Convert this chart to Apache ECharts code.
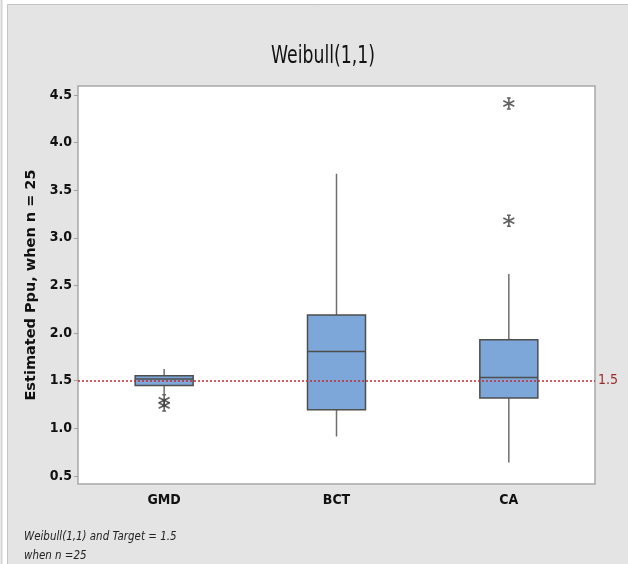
<!DOCTYPE html>
<html>
<head>
<meta charset="utf-8">
<script src="https://cdn.jsdelivr.net/npm/echarts@6/dist/echarts.min.js"></script>
<style>
  html, body { margin: 0; padding: 0; background: #fff; }
  #chart { width: 628px; height: 564px; }
</style>
</head>
<body>
<div id="chart"></div>
<script>
const categories = ["GMD", "BCT", "CA"];
// whisker low, Q1, median, Q3, whisker high
const boxStats = [
  [1.353, 1.451, 1.518, 1.553, 1.623],
  [0.915, 1.196, 1.808, 2.19, 3.673],
  [0.642, 1.318, 1.535, 1.93, 2.62],
];
// [category index, value]
const outliers = [[0, 1.295], [0, 1.24], [2, 4.41], [2, 3.18]];
const yTicks = [0.5, 1.0, 1.5, 2.0, 2.5, 3.0, 3.5, 4.0, 4.5];
const target = 1.5;

const narrow = '"Liberation Sans Narrow", "DejaVu Sans Condensed", "Roboto", sans-serif';

const chart = echarts.init(document.getElementById("chart"));

const option = {
  backgroundColor: "#fff",
  animation: false,
  graphic: [
    {
      type: "rect",
      z: -10,
      shape: { x: 7.5, y: 4.5, width: 640, height: 600 },
      style: { fill: "#e4e4e4", stroke: "#c4c4c4", lineWidth: 1 },
    },
    {
      type: "line",
      z: -10,
      shape: { x1: 1.5, y1: 0, x2: 1.5, y2: 564 },
      style: { stroke: "#d4d4d4", lineWidth: 2 },
    },
    {
      type: "text",
      x: 323,
      y: 57,
      scaleX: 0.8,
      style: {
        text: "Weibull(1,1)",
        fontSize: 24,
        fontWeight: 500,
        fontFamily: narrow,
        fill: "#111",
        align: "center",
        verticalAlign: "middle",
      },
    },
    {
      type: "text",
      x: 24,
      y: 537,
      scaleX: 0.88,
      style: {
        text: "Weibull(1,1) and Target = 1.5",
        fontSize: 13,
        fontStyle: "italic",
        fontFamily: narrow,
        fill: "#222",
        verticalAlign: "middle",
      },
    },
    {
      type: "text",
      x: 24,
      y: 556,
      scaleX: 0.88,
      style: {
        text: "when n =25",
        fontSize: 13,
        fontStyle: "italic",
        fontFamily: narrow,
        fill: "#222",
        verticalAlign: "middle",
      },
    },
  ],
  grid: {
    left: 78,
    right: 33,
    top: 86,
    bottom: 80,
    show: true,
    backgroundColor: "#fff",
    borderColor: "#a8a8a8",
    borderWidth: 1.5,
  },
  xAxis: {
    type: "category",
    data: categories,
    boundaryGap: true,
    axisLine: { show: false },
    axisTick: {
      alignWithLabel: true,
      length: 5,
      lineStyle: { color: "#a0a0a0" },
    },
    axisLabel: {
      margin: 9,
      fontSize: 14,
      fontWeight: "bold",
      fontFamily: narrow,
      color: "#111",
    },
    splitLine: { show: false },
  },
  yAxis: {
    type: "value",
    min: 0.416,
    max: 4.594,
    name: "Estimated Ppu, when n = 25",
    nameLocation: "middle",
    nameRotate: 90,
    nameGap: 38,
    nameTextStyle: {
      fontSize: 14.5,
      fontWeight: "bold",
      fontFamily: '"DejaVu Sans", "Open Sans", sans-serif',
      color: "#111",
    },
    axisLine: { show: false },
    axisTick: {
      show: true,
      customValues: yTicks,
      length: 4,
      lineStyle: { color: "#a0a0a0" },
    },
    axisLabel: {
      customValues: yTicks,
      formatter: (v) => v.toFixed(1),
      margin: 6,
      fontSize: 14,
      fontWeight: "bold",
      fontFamily: narrow,
      color: "#111",
    },
    splitLine: { show: false },
  },
  series: [
    {
      type: "scatter",
      data: outliers,
      z: 2,
      symbol: "path://M5,0L5,10M0.67,2.5L9.33,7.5M0.67,7.5L9.33,2.5M3.5,0L6.5,0M3.5,10L6.5,10",
      symbolSize: 11,
      itemStyle: { color: "#3a3a3a", borderColor: "#3a3a3a", borderWidth: 1.6 },
      markLine: {
        silent: true,
        symbol: "none",
        data: [{ yAxis: target }],
        lineStyle: { color: "#c42a2f", type: [2, 2], width: 1.5 },
        label: {
          show: true,
          position: "end",
          distance: 3,
          formatter: "1.5",
          fontSize: 14,
          fontFamily: narrow,
          color: "#9b2d30",
        },
      },
    },
    {
      type: "custom",
      data: boxStats.map((s, i) => [i, ...s]),
      encode: { x: 0, y: [1, 2, 3, 4, 5] },
      z: 3,
      renderItem: (params, api) => {
        const i = api.value(0);
        const pLow = api.coord([i, api.value(1)]);
        const pQ1 = api.coord([i, api.value(2)]);
        const pMed = api.coord([i, api.value(3)]);
        const pQ3 = api.coord([i, api.value(4)]);
        const pHigh = api.coord([i, api.value(5)]);
        const cx = pMed[0];
        const half = 29;
        const whisker = { stroke: "#6e6e6e", lineWidth: 1.5 };
        return {
          type: "group",
          children: [
            { type: "line", shape: { x1: cx, y1: pLow[1], x2: cx, y2: pQ1[1] }, style: whisker },
            { type: "line", shape: { x1: cx, y1: pQ3[1], x2: cx, y2: pHigh[1] }, style: whisker },
            {
              type: "rect",
              shape: { x: cx - half, y: pQ3[1], width: half * 2, height: pQ1[1] - pQ3[1] },
              style: { fill: "#7ea7d9", stroke: "#4e4e4e", lineWidth: 1.5 },
            },
            {
              type: "line",
              shape: { x1: cx - half, y1: pMed[1], x2: cx + half, y2: pMed[1] },
              style: { stroke: "#4e4e4e", lineWidth: 1.5 },
            },
          ],
        };
      },
    },
  ],
};

chart.setOption(option);
</script>
</body>
</html>
